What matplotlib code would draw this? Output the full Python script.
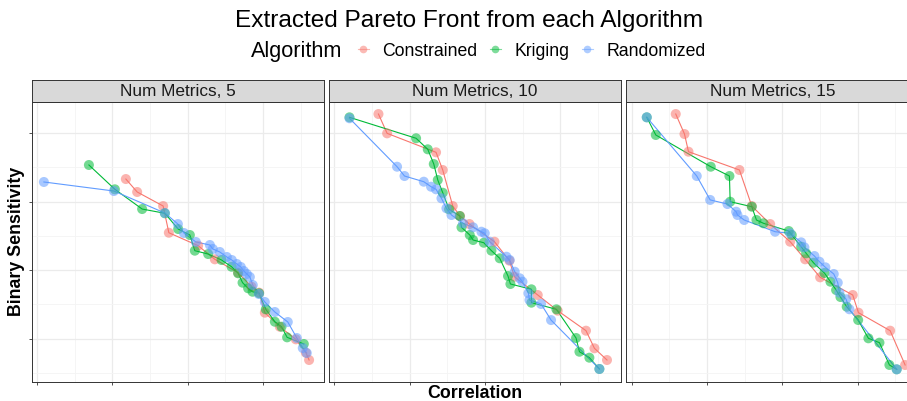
import matplotlib
matplotlib.use("Agg")
import matplotlib.pyplot as plt
from matplotlib.lines import Line2D

plt.rcParams['font.family'] = ['Liberation Sans', 'DejaVu Sans']

panel_titles = ["Num Metrics, 5", "Num Metrics, 10", "Num Metrics, 15"]
algorithms = ["Constrained", "Kriging", "Randomized"]
colors = {"Constrained": "#F8766D", "Kriging": "#00BA38", "Randomized": "#619CFF"}

# Num Metrics 5
c5_x = [1.178, 1.328, 1.673, 1.749, 2.138, 2.360, 2.669, 2.847, 2.948, 3.024, 3.223, 3.436, 3.569, 3.612]
c5_y = [3.331, 3.142, 2.937, 2.547, 2.358, 2.159, 1.964, 1.759, 1.672, 1.380, 1.175, 0.991, 0.796, 0.689]
k5_x = [0.687, 1.032, 1.394, 1.696, 1.873, 2.028, 2.094, 2.271, 2.449, 2.582, 2.669, 2.728, 2.802, 2.861,
        2.948, 3.037, 3.157, 3.246, 3.320, 3.542]
k5_y = [3.536, 3.181, 2.893, 2.831, 2.601, 2.514, 2.285, 2.236, 2.149, 2.051, 1.955, 1.818, 1.736, 1.686,
        1.663, 1.429, 1.248, 1.175, 1.020, 0.923]
r5_x = [0.089, 1.019, 1.696, 1.869, 1.949, 2.108, 2.294, 2.333, 2.426, 2.519, 2.585, 2.652, 2.705, 2.745,
        2.785, 2.825, 2.864, 2.944, 3.024, 3.157, 3.329, 3.449, 3.528, 3.581]
r5_y = [3.288, 3.156, 2.835, 2.674, 2.543, 2.412, 2.368, 2.310, 2.266, 2.193, 2.149, 2.091, 2.047, 1.988,
        1.945, 1.901, 1.784, 1.653, 1.536, 1.390, 1.244, 1.010, 0.864, 0.791]

# Num Metrics 10
c10_x = [0.584, 0.699, 1.349, 1.438, 1.571, 1.668, 1.793, 2.125, 2.324, 2.390, 2.700, 2.965, 3.341, 3.453, 3.620]
c10_y = [4.280, 3.998, 3.721, 3.463, 2.937, 2.791, 2.674, 2.416, 2.139, 1.905, 1.638, 1.409, 1.117, 0.860, 0.689]
k10_x = [0.199, 1.084, 1.239, 1.319, 1.372, 1.438, 1.522, 1.664, 1.687, 1.797, 1.841, 1.983, 2.085, 2.195,
         2.305, 2.337, 2.616, 2.616, 2.948, 3.209, 3.254, 3.386, 3.519]
k10_y = [4.232, 3.926, 3.765, 3.550, 3.317, 3.131, 2.889, 2.791, 2.626, 2.514, 2.441, 2.401, 2.285, 2.174,
         1.915, 1.799, 1.721, 1.526, 1.429, 1.010, 0.810, 0.723, 0.558]
r10_x = [0.199, 0.831, 0.930, 1.186, 1.283, 1.349, 1.421, 1.487, 1.554, 1.708, 1.841, 1.952, 1.996, 2.062,
         2.284, 2.328, 2.394, 2.461, 2.497, 2.576, 2.590, 2.744, 2.877, 3.519]
r10_y = [4.218, 3.511, 3.375, 3.292, 3.219, 3.181, 3.050, 2.904, 2.806, 2.685, 2.626, 2.562, 2.539, 2.416,
         2.197, 2.149, 1.978, 1.882, 1.832, 1.663, 1.565, 1.507, 1.272, 0.558]

# Num Metrics 15
c15_x = [0.584, 0.700, 0.753, 1.430, 1.594, 1.838, 2.104, 2.303, 2.502, 2.935, 3.011, 3.432, 3.631]
c15_y = [4.280, 3.988, 3.730, 3.463, 2.937, 2.674, 2.416, 2.159, 1.896, 1.638, 1.380, 1.117, 0.616]
k15_x = [0.199, 0.319, 1.049, 1.297, 1.307, 1.594, 1.656, 1.749, 2.085, 2.125, 2.250, 2.316, 2.413, 2.559,
         2.639, 2.714, 2.772, 2.855, 3.007, 3.143, 3.290, 3.422, 3.519]
k15_y = [4.232, 3.974, 3.511, 3.375, 3.000, 2.927, 2.733, 2.685, 2.572, 2.514, 2.343, 2.247, 2.109, 1.959,
         1.832, 1.711, 1.609, 1.467, 1.273, 1.006, 0.942, 0.617, 0.553]
r15_x = [0.199, 0.863, 1.041, 1.271, 1.386, 1.404, 1.493, 1.904, 2.104, 2.250, 2.293, 2.426, 2.493, 2.572,
         2.683, 2.736, 2.758, 2.847, 2.891, 3.519]
r15_y = [4.232, 3.375, 3.026, 2.966, 2.854, 2.806, 2.733, 2.562, 2.539, 2.407, 2.334, 2.207, 2.124, 2.042,
         1.945, 1.818, 1.672, 1.576, 1.430, 0.553]

panels = [
    {"Constrained": (c5_x, c5_y), "Kriging": (k5_x, k5_y), "Randomized": (r5_x, r5_y)},
    {"Constrained": (c10_x, c10_y), "Kriging": (k10_x, k10_y), "Randomized": (r10_x, r10_y)},
    {"Constrained": (c15_x, c15_y), "Kriging": (k15_x, k15_y), "Randomized": (r15_x, r15_y)},
]

W, H = 907, 401
fig = plt.figure(figsize=(W / 100, H / 100), dpi=100)

lefts = [31.7, 329.0, 626.3]
pw = 292.3
ptop, pbot = 101.7, 382.0
stop = 80.0

for i, (left, data) in enumerate(zip(lefts, panels)):
    ax = fig.add_axes([left / W, (H - pbot) / H, pw / W, (pbot - ptop) / H])
    for alg in algorithms:
        xs, ys = data[alg]
        ax.plot(xs, ys, color=colors[alg], lw=0.8, zorder=3)
        ax.scatter(xs, ys, s=52, color=colors[alg], alpha=0.55, edgecolors='none', zorder=4)
    ax.set_xlim(-0.073, 3.81)
    ax.set_ylim(0.368, 4.46)
    ax.set_xticks([0, 1, 2, 3])
    ax.set_xticks([0.5, 1.5, 2.5, 3.5], minor=True)
    ax.set_yticks([1, 2, 3, 4])
    ax.set_yticks([0.5, 1.5, 2.5, 3.5], minor=True)
    ax.grid(which='major', color='#EBEBEB', lw=0.9)
    ax.grid(which='minor', color='#F4F4F4', lw=0.6)
    ax.set_axisbelow(True)
    ax.tick_params(which='both', labelbottom=False, labelleft=False)
    ax.tick_params(which='major', length=2.5, width=0.6, color='#333333')
    ax.tick_params(which='minor', length=0)
    if i > 0:
        ax.tick_params(axis='y', which='major', length=0)
    for sp in ax.spines.values():
        sp.set_color('#333333')
        sp.set_linewidth(0.7)

    sax = fig.add_axes([left / W, (H - ptop) / H, pw / W, (ptop - stop) / H])
    sax.set_facecolor('#D9D9D9')
    sax.set_xticks([])
    sax.set_yticks([])
    for sp in sax.spines.values():
        sp.set_color('#333333')
        sp.set_linewidth(0.7)
    sax.text(0.5, 0.47, panel_titles[i], ha='center', va='center', fontsize=12.4,
             color='#1A1A1A', transform=sax.transAxes)

fig.text(469 / W, 1 - 21 / H, "Extracted Pareto Front from each Algorithm", ha='center', va='center',
         fontsize=17.6)
fig.text(17 / W, (H - (ptop + pbot) / 2) / H, "Binary Sensitivity", rotation=90, ha='center',
         va='center', fontsize=12.8, fontweight='bold')
fig.text(475 / W, 1 - 393 / H, "Correlation", ha='center', va='center', fontsize=12.8,
         fontweight='bold')

fig.text(251 / W, 1 - 52 / H, "Algorithm", ha='left', va='center', fontsize=15.6)
handles = [Line2D([0], [0], color=colors[a], lw=0.8, marker='o', markersize=5.5,
                  markerfacecolor=colors[a], markeredgecolor='none', alpha=0.5) for a in algorithms]
fig.legend(handles, algorithms, loc='center left', bbox_to_anchor=(357.5 / W, 1 - 51 / H), ncol=3,
           frameon=False, fontsize=12.7, handlelength=0.65, handletextpad=0.75, columnspacing=0.7,
           borderaxespad=0, borderpad=0)

fig.savefig("out.png", dpi=100)
